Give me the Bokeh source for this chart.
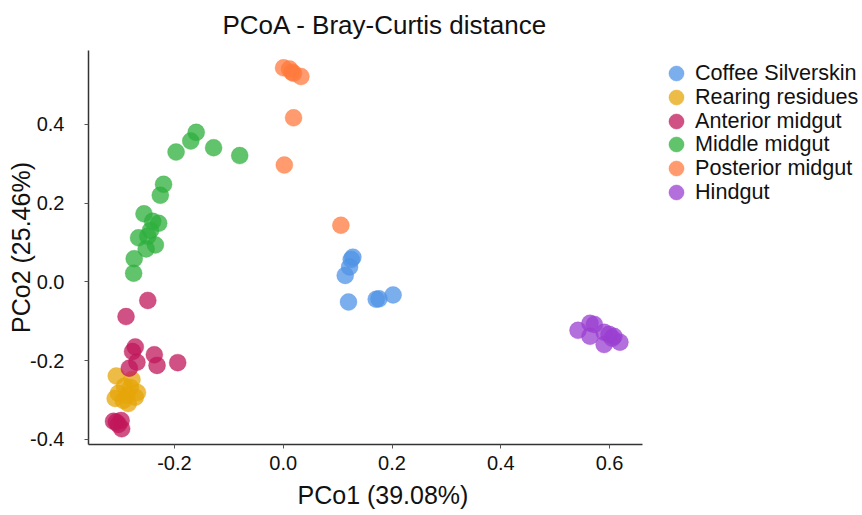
from bokeh.plotting import figure
from bokeh.models import Legend, LegendItem, Title, FixedTicker, NumeralTickFormatter, Range1d
from bokeh.embed import file_html
from bokeh.resources import INLINE

groups = ["Coffee Silverskin", "Rearing residues", "Anterior midgut",
          "Middle midgut", "Posterior midgut", "Hindgut"]
colors = ["#4F93E6", "#E5A50A", "#C0175A", "#2DAF3C", "#FF7A3D", "#9A3FD0"]

silverskin_x = [0.128, 0.125, 0.122, 0.114, 0.120, 0.171, 0.176, 0.202]
silverskin_y = [0.063, 0.057, 0.038, 0.0165, -0.051, -0.044, -0.043, -0.033]

rearing_x = [-0.307, -0.278, -0.292, -0.281, -0.303, -0.268, -0.287, -0.272, -0.309, -0.285, -0.294]
rearing_y = [-0.239, -0.248, -0.265, -0.268, -0.283, -0.281, -0.288, -0.293, -0.296, -0.309, -0.301]

anterior_x = [-0.249, -0.289, -0.272, -0.277, -0.269, -0.237, -0.232, -0.194, -0.283,
              -0.307, -0.298, -0.297, -0.312, -0.303]
anterior_y = [-0.047, -0.088, -0.165, -0.177, -0.204, -0.185, -0.212, -0.205, -0.219,
              -0.356, -0.352, -0.373, -0.354, -0.362]

middle_x = [-0.160, -0.170, -0.197, -0.128, -0.080, -0.220, -0.226, -0.256, -0.240,
            -0.229, -0.244, -0.266, -0.249, -0.235, -0.252, -0.274, -0.275]
middle_y = [0.380, 0.358, 0.330, 0.341, 0.321, 0.248, 0.220, 0.173, 0.154,
            0.149, 0.131, 0.112, 0.116, 0.094, 0.084, 0.059, 0.022]

posterior_x = [0.0006, 0.0116, 0.016, 0.019, 0.0325, 0.019, 0.002, 0.106]
posterior_y = [0.544, 0.541, 0.533, 0.530, 0.522, 0.417, 0.297, 0.144]

hindgut_x = [0.542, 0.564, 0.572, 0.564, 0.590, 0.599, 0.608, 0.619, 0.590, 0.605]
hindgut_y = [-0.123, -0.105, -0.108, -0.138, -0.128, -0.133, -0.138, -0.153, -0.159, -0.143]

xs = [silverskin_x, rearing_x, anterior_x, middle_x, posterior_x, hindgut_x]
ys = [silverskin_y, rearing_y, anterior_y, middle_y, posterior_y, hindgut_y]

x_ticks = [-0.2, 0.0, 0.2, 0.4, 0.6]
y_ticks = [-0.4, -0.2, 0.0, 0.2, 0.4]
x_axis_bounds = (-0.358, 0.660)

title_text = "PCoA - Bray-Curtis distance"
x_label = "PCo1 (39.08%)"
y_label = "PCo2 (25.46%)"

FONT = "Liberation Sans"

# the frame extends to the right edge so the legend can sit beside the data area
p = figure(frame_width=774, frame_height=394, output_backend="svg", toolbar_location=None,
           x_range=Range1d(-0.358, 1.065), y_range=Range1d(-0.413, 0.588),
           min_border_left=88, min_border_right=0, min_border_top=50, min_border_bottom=69)
p.outline_line_color = None
p.xgrid.visible = False
p.ygrid.visible = False

for ax in (p.xaxis[0], p.yaxis[0]):
    ax.axis_line_color = "#333333"
    ax.axis_line_width = 1.5
    ax.major_tick_line_color = "#555555"
    ax.major_tick_in = 0
    ax.major_tick_out = 4
    ax.minor_tick_line_color = None
    ax.major_label_text_font = FONT
    ax.major_label_text_font_size = "20px"
    ax.major_label_text_color = "#111111"
    ax.formatter = NumeralTickFormatter(format="0.0")

p.xaxis[0].ticker = FixedTicker(ticks=x_ticks)
p.xaxis[0].bounds = x_axis_bounds
p.yaxis[0].ticker = FixedTicker(ticks=y_ticks)
p.xaxis[0].major_label_standoff = 7
p.yaxis[0].major_label_standoff = 20

p.yaxis[0].axis_label = y_label
p.yaxis[0].axis_label_text_font = FONT
p.yaxis[0].axis_label_text_font_size = "25px"
p.yaxis[0].axis_label_text_font_style = "normal"
p.yaxis[0].axis_label_text_color = "#111111"
p.yaxis[0].axis_label_standoff = -8

for i, (name, c, gx, gy) in enumerate(zip(groups, colors, xs, ys)):
    r = p.scatter(gx, gy, size=17, marker="circle", fill_color=c, fill_alpha=0.75,
                  line_color=c, line_alpha=0.3, line_width=1)
    # one single-row legend per group so the rows can sit closer than the glyph box
    lg = Legend(items=[LegendItem(label=name, renderers=[r])],
                location=(569, round(351 - 23.8 * i)), padding=0, spacing=0, margin=0,
                glyph_width=38, glyph_height=40, label_height=40, label_standoff=0,
                label_text_font=FONT, label_text_font_size="21.6px", label_text_color="#111111",
                border_line_color=None, background_fill_alpha=0)
    p.add_layout(lg, "center")

p.add_layout(Title(text=title_text, align="left", offset=134, standoff=18, vertical_align="top",
                   text_font=FONT, text_font_size="26px", text_font_style="normal",
                   text_color="#111111"),
             "above")
p.add_layout(Title(text=x_label, align="left", offset=209, standoff=13, text_font=FONT,
                   text_font_size="25px", text_font_style="normal", text_color="#111111"),
             "below")

open("out.html", "w").write(file_html(p, INLINE))
